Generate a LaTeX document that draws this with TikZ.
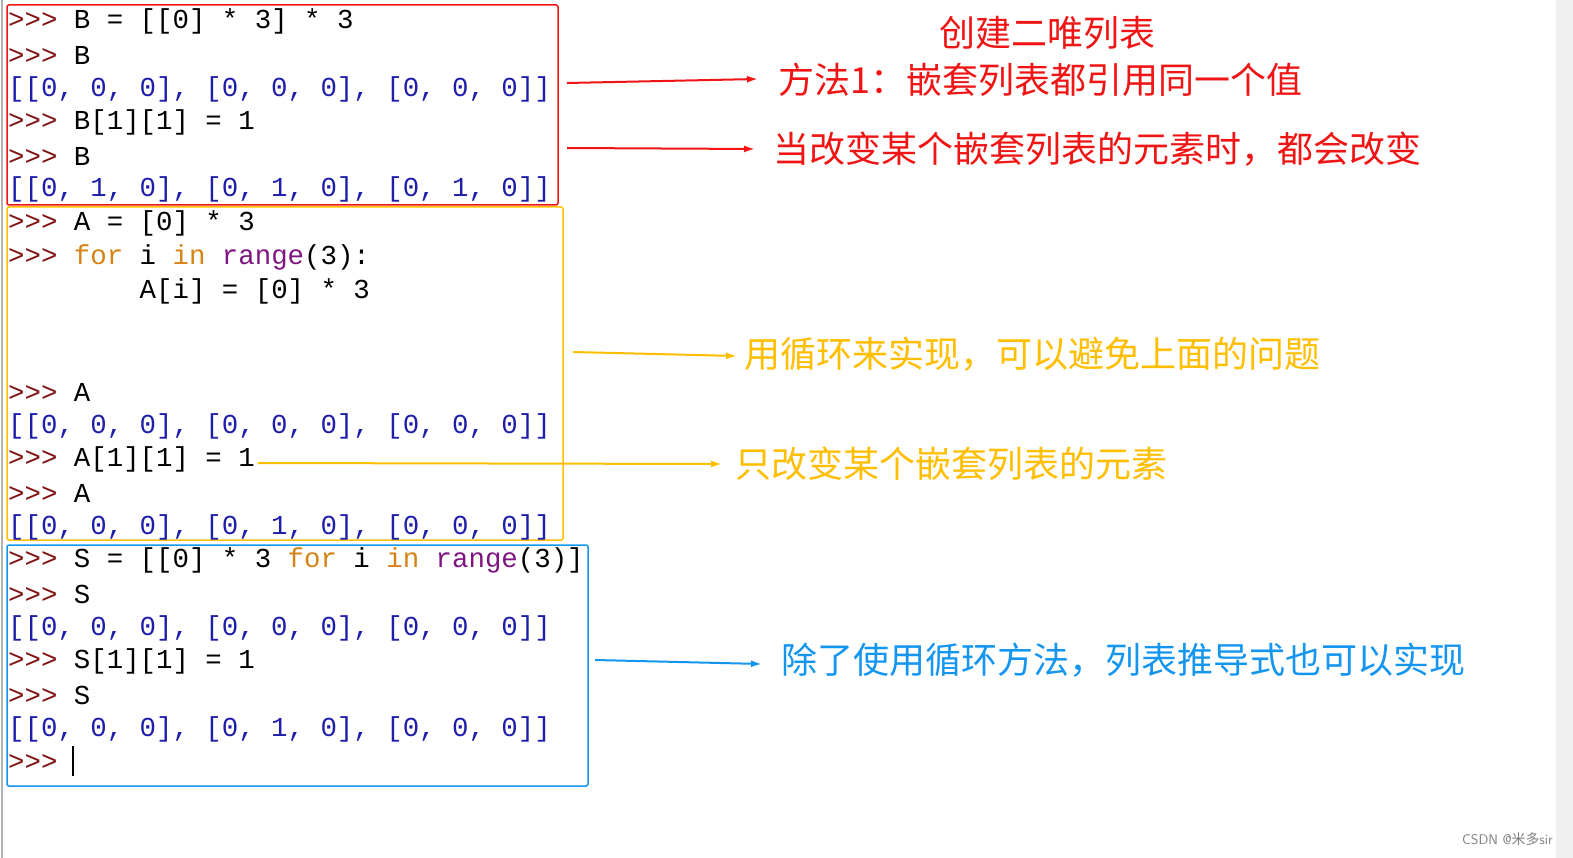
\documentclass[tikz,border=0pt]{standalone}
\usepackage{fontspec}
\setmonofont{Liberation Mono}
\newfontfamily\cjk{Noto Sans CJK SC}
\usetikzlibrary{arrows.meta}
\definecolor{pr}{RGB}{128,20,20}
\definecolor{lb}{RGB}{30,30,170}
\definecolor{kw}{RGB}{215,130,20}
\definecolor{pu}{RGB}{128,20,128}
\definecolor{rd}{RGB}{240,20,20}
\definecolor{yl}{RGB}{255,190,0}
\definecolor{bl}{RGB}{20,150,240}
\tikzset{code/.style={anchor=west,inner sep=0pt,font=\ttfamily\fontsize{27.4}{30}\selectfont},
 note/.style={anchor=west,inner sep=0pt,font=\cjk\fontsize{36}{40}\selectfont},
 arr/.style={-{Latex[length=11pt,width=7pt]},line width=2pt}}
\newcommand{\prm}{\textcolor{pr}{>>>} }
\begin{document}
\begin{tikzpicture}[x=1pt,y=-1pt]
\useasboundingbox (0,0) rectangle (1573,858);
\fill[white] (0,0) rectangle (1573,858);
\draw[gray!60,line width=1.5pt] (2,0) -- (2,858);
\fill[gray!12] (1556,0) rectangle (1573,858);
\draw[rd,line width=1.5pt,rounded corners=2pt] (7,5) rectangle (558,205);
\draw[yl,line width=1.5pt,rounded corners=2pt] (7,207) rectangle (563,540);
\draw[bl,line width=1.5pt,rounded corners=2pt] (7,545) rectangle (588,786);
% code
\node[code] (l1) at (8,21) {\prm B = [[0] * 3] * 3};
\node[code] (l2) at (8,55) {\prm B};
\node[code,lb] (l3) at (8,89) {[[0, 0, 0], [0, 0, 0], [0, 0, 0]]};
\node[code] (l4) at (8,122) {\prm B[1][1] = 1};
\node[code] (l5) at (8,156) {\prm B};
\node[code,lb] (l6) at (8,189) {[[0, 1, 0], [0, 1, 0], [0, 1, 0]]};
\node[code] (m1) at (8,223) {\prm A = [0] * 3};
\node[code] (m2) at (8,257) {\prm \textcolor{kw}{for} i \textcolor{kw}{in} \textcolor{pu}{range}(3):};
\node[code] (m3) at (8,291) {\phantom{>>> }\phantom{>>>>}A[i] = [0] * 3};
\node[code] (m4) at (8,392) {\prm A};
\node[code,lb] (m5) at (8,426) {[[0, 0, 0], [0, 0, 0], [0, 0, 0]]};
\node[code] (m6) at (8,459) {\prm A[1][1] = 1};
\node[code] (m7) at (8,493) {\prm A};
\node[code,lb] (m8) at (8,527) {[[0, 0, 0], [0, 1, 0], [0, 0, 0]]};
\node[code] (s1) at (8,560) {\prm S = [[0] * 3 \textcolor{kw}{for} i \textcolor{kw}{in} \textcolor{pu}{range}(3)]};
\node[code] (s2) at (8,594) {\prm S};
\node[code,lb] (s3) at (8,628) {[[0, 0, 0], [0, 0, 0], [0, 0, 0]]};
\node[code] (s4) at (8,661) {\prm S[1][1] = 1};
\node[code] (s5) at (8,695) {\prm S};
\node[code,lb] (s6) at (8,729) {[[0, 0, 0], [0, 1, 0], [0, 0, 0]]};
\node[code] (s7) at (8,763) {\prm};
\draw[line width=1.5pt] (73,746) -- (73,776);
% notes
\node[note,rd,anchor=center] (t0) at (1047,33) {创建二唯列表};
\node[note,rd] (t1) at (778,80) {方法1：嵌套列表都引用同一个值};
\node[note,rd] (t2) at (773,149) {当改变某个嵌套列表的元素时，都会改变};
\node[note,yl] (t3) at (744,354) {用循环来实现，可以避免上面的问题};
\node[note,yl] (t4) at (735,464) {只改变某个嵌套列表的元素};
\node[note,bl] (t5) at (781,660) {除了使用循环方法，列表推导式也可以实现};
\coordinate (c1) at (567,83);
\coordinate (c2) at (567,148);
\coordinate (c3) at (573,352);
\coordinate (c4) at (258,463);
\coordinate (c5) at (595,660);
\draw[arr,rd] (c1) -- ([xshift=-20pt,yshift=1pt]t1.west);
\draw[arr,rd] (c2) -- ([xshift=-18pt]t2.west);
\draw[arr,yl] (c3) -- ([xshift=-7pt,yshift=-2pt]t3.west);
\draw[arr,yl] (c4) -- ([xshift=-13pt]t4.west);
\draw[arr,bl] (c5) -- ([xshift=-19pt,yshift=-4pt]t5.west);
\node[anchor=east,inner sep=0pt,gray,font=\sffamily\fontsize{14}{15}\selectfont] (wm) at (1553,839) {CSDN @{\cjk 米多}sir};
\end{tikzpicture}
\end{document}
